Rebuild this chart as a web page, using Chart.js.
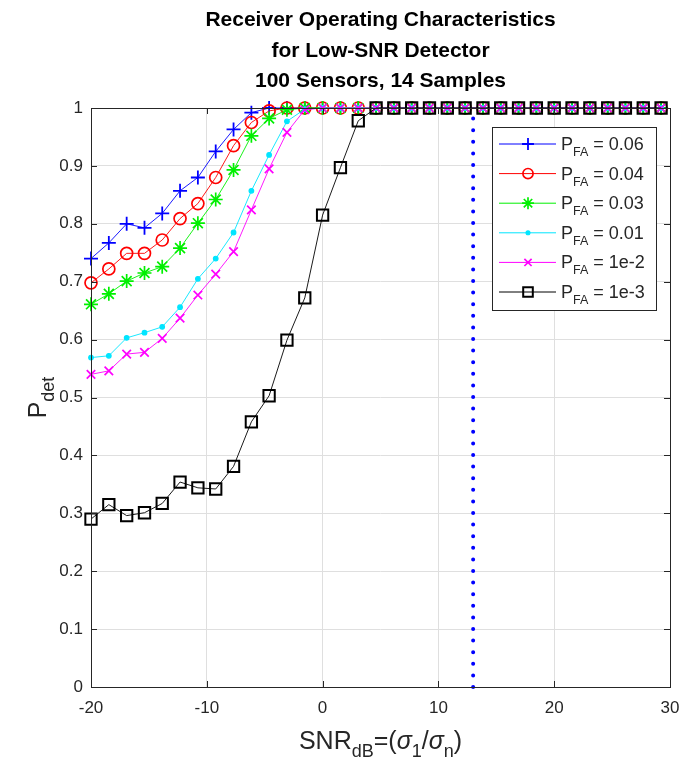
<!DOCTYPE html>
<html>
<head>
<meta charset="utf-8">
<script src="https://cdn.jsdelivr.net/npm/chart.js@4.4.1/dist/chart.umd.min.js"></script>
<style>
  body { margin: 0; background: #fff; }
  #wrap { width: 685px; height: 760px; }
</style>
</head>
<body>
<div id="wrap"><canvas id="roc" width="685" height="760"></canvas></div>
<script>
//------------ data ------------//

// SNR grid in dB (step 20/13 dB)
var snr_dB = [-20, -18.46, -16.92, -15.38, -13.85, -12.31, -10.77, -9.23, -7.69, -6.15, -4.62,
  -3.08, -1.54, 0, 1.54, 3.08, 4.62, 6.15, 7.69, 9.23, 10.77, 12.31, 13.85, 15.38, 16.92,
  18.46, 20, 21.54, 23.08, 24.62, 26.15, 27.69, 29.23];

// detection probability for each false alarm rate
var pd_006 = [0.740, 0.767, 0.800, 0.793, 0.818, 0.857, 0.880, 0.925, 0.963, 0.992, 1,
  1, 1, 1, 1, 1, 1, 1, 1, 1, 1, 1, 1, 1, 1, 1, 1, 1, 1, 1, 1, 1, 1];
var pd_004 = [0.698, 0.722, 0.749, 0.749, 0.772, 0.809, 0.835, 0.880, 0.935, 0.975, 0.995,
  1, 1, 1, 1, 1, 1, 1, 1, 1, 1, 1, 1, 1, 1, 1, 1, 1, 1, 1, 1, 1, 1];
var pd_003 = [0.661, 0.679, 0.701, 0.715, 0.726, 0.758, 0.801, 0.842, 0.893, 0.952, 0.982,
  0.997, 1, 1, 1, 1, 1, 1, 1, 1, 1, 1, 1, 1, 1, 1, 1, 1, 1, 1, 1, 1, 1];
var pd_001 = [0.569, 0.572, 0.603, 0.612, 0.622, 0.656, 0.705, 0.740, 0.785, 0.857, 0.919,
  0.977, 0.998, 1, 1, 1, 1, 1, 1, 1, 1, 1, 1, 1, 1, 1, 1, 1, 1, 1, 1, 1, 1];
var pd_1e2 = [0.540, 0.546, 0.575, 0.578, 0.602, 0.637, 0.677, 0.713, 0.752, 0.824, 0.895,
  0.958, 0.997, 1, 1, 1, 1, 1, 1, 1, 1, 1, 1, 1, 1, 1, 1, 1, 1, 1, 1, 1, 1];
var pd_1e3 = [0.290, 0.315, 0.296, 0.301, 0.317, 0.354, 0.344, 0.342, 0.381, 0.458, 0.503,
  0.599, 0.672, 0.815, 0.897, 0.978, 1, 1, 1, 1, 1, 1, 1, 1, 1, 1, 1, 1, 1, 1, 1, 1, 1];

var pfa_labels = ["0.06", "0.04", "0.03", "0.01", "1e-2", "1e-3"];

// vertical marker line
var mark_x = [13, 13];
var mark_y = [0, 1];

var x_ticks = [-20, -10, 0, 10, 20, 30];
var y_ticks = [0, 0.1, 0.2, 0.3, 0.4, 0.5, 0.6, 0.7, 0.8, 0.9, 1];

var title_lines = ["Receiver Operating Characteristics", "for Low-SNR Detector", "100 Sensors, 14 Samples"];

//------------ helpers ------------//

var FONT = '"Liberation Sans", Arial, Helvetica, sans-serif';
var INK = "#262626";

function pairs(xs, ys) {
  var out = [];
  for (var i = 0; i < xs.length; i++) out.push({ x: xs[i], y: ys[i] });
  return out;
}

// text made of runs: {t, size, dy, style}
function runsWidth(ctx, runs) {
  var w = 0;
  runs.forEach(function (r) {
    ctx.font = (r.style || "") + " " + r.size + "px " + FONT;
    w += ctx.measureText(r.t).width;
  });
  return w;
}
function drawRuns(ctx, runs, x, y) {
  runs.forEach(function (r) {
    ctx.font = (r.style || "") + " " + r.size + "px " + FONT;
    ctx.fillText(r.t, x, y + (r.dy || 0));
    x += ctx.measureText(r.t).width;
  });
}

function series(label, data, color, style, radius, width, order) {
  return {
    label: label,
    data: pairs(snr_dB, data),
    borderColor: color,
    borderWidth: 0.9,
    pointStyle: style,
    pointRadius: radius,
    pointHoverRadius: radius,
    pointBorderColor: color,
    pointBorderWidth: width,
    pointBackgroundColor: style === "circle" && radius < 3 ? color : "rgba(0,0,0,0)",
    tension: 0,
    clip: false,
    order: order
  };
}

var datasets = [
  series("0.06", pd_006, "#0000ff", "cross", 7, 1.8, 6),
  series("0.04", pd_004, "#ff0000", "circle", 6, 1.7, 5),
  series("0.03", pd_003, "#00f000", "star", 7, 1.7, 4),
  series("0.01", pd_001, "#00e5ff", "circle", 2.3, 1.2, 3),
  series("1e-2", pd_1e2, "#ff00ff", "crossRot", 6, 1.7, 2),
  series("1e-3", pd_1e3, "#000000", "rect", 8, 2, 1),
  {
    label: "mark",
    data: pairs(mark_x, mark_y),
    borderColor: "#0000ff",
    borderWidth: 4,
    borderDash: [0, 11.6],
    borderCapStyle: "round",
    pointRadius: 0,
    clip: false,
    order: 0
  }
];

//------------ decorations: box, ticks, titles, legend ------------//

var decor = {
  id: "decor",
  afterDatasetsDraw: function (chart) {
    var ctx = chart.ctx, a = chart.chartArea;
    var sx = chart.scales.x, sy = chart.scales.y;
    ctx.save();

    // inward ticks on all four sides
    ctx.strokeStyle = INK;
    ctx.lineWidth = 1;
    ctx.beginPath();
    x_ticks.forEach(function (v) {
      var px = Math.round(sx.getPixelForValue(v)) + 0.5;
      ctx.moveTo(px, a.bottom); ctx.lineTo(px, a.bottom - 6);
      ctx.moveTo(px, a.top); ctx.lineTo(px, a.top + 6);
    });
    y_ticks.forEach(function (v) {
      var py = Math.round(sy.getPixelForValue(v)) + 0.5;
      ctx.moveTo(a.left, py); ctx.lineTo(a.left + 6, py);
      ctx.moveTo(a.right, py); ctx.lineTo(a.right - 6, py);
    });
    ctx.stroke();
    ctx.strokeRect(Math.round(a.left) + 0.5, Math.round(a.top) + 0.5,
      Math.round(a.right - a.left), Math.round(a.bottom - a.top));

    // legend
    var bw = 164, bh = 183;
    var bx = Math.round(a.right) - 14 - bw, by = Math.round(a.top) + 19;
    ctx.fillStyle = "#fff";
    ctx.fillRect(bx, by, bw, bh);
    ctx.strokeStyle = INK;
    ctx.strokeRect(bx + 0.5, by + 0.5, bw, bh);
    for (var i = 0; i < 6; i++) {
      var ds = datasets[i];
      var ry = by + 17 + i * 29.6;
      ctx.strokeStyle = ds.borderColor;
      ctx.lineWidth = 1;
      ctx.beginPath();
      ctx.moveTo(bx + 7, ry); ctx.lineTo(bx + 64, ry);
      ctx.stroke();
      ctx.lineWidth = ds.pointBorderWidth;
      ctx.fillStyle = ds.pointBackgroundColor;
      Chart.helpers.drawPoint(ctx, {
        pointStyle: ds.pointStyle, radius: ds.pointRadius * 0.85, rotation: 0, borderWidth: ds.pointBorderWidth
      }, bx + 36, ry);
      ctx.fillStyle = INK;
      ctx.textAlign = "left";
      ctx.textBaseline = "alphabetic";
      drawRuns(ctx, [
        { t: "P", size: 18 },
        { t: "FA", size: 12.5, dy: 6 },
        { t: " = " + pfa_labels[i], size: 18 }
      ], bx + 69, ry + 6);
    }

    // title
    var cx = (a.left + a.right) / 2;
    ctx.fillStyle = "#000";
    ctx.textAlign = "center";
    ctx.font = "bold 21px " + FONT;
    title_lines.forEach(function (t, k) {
      ctx.fillText(t, cx, 26 + k * 30.5);
    });

    // x axis title
    ctx.textAlign = "left";
    ctx.fillStyle = INK;
    var xr = [
      { t: "SNR", size: 25 },
      { t: "dB", size: 18, dy: 8 },
      { t: "=(", size: 25 },
      { t: "\u03c3", size: 25, style: "italic" },
      { t: "1", size: 18, dy: 8 },
      { t: "/", size: 25 },
      { t: "\u03c3", size: 25, style: "italic" },
      { t: "n", size: 18, dy: 8 },
      { t: ")", size: 25 }
    ];
    drawRuns(ctx, xr, cx - runsWidth(ctx, xr) / 2, 749);

    // y axis title
    var yr = [{ t: "P", size: 25 }, { t: "det", size: 18, dy: 8 }];
    ctx.translate(46, (a.top + a.bottom) / 2);
    ctx.rotate(-Math.PI / 2);
    drawRuns(ctx, yr, -runsWidth(ctx, yr) / 2, 0);

    ctx.restore();
  }
};

//------------ chart ------------//

var ctx = document.getElementById("roc");
var rocChart = new Chart(ctx, {
  type: "line",
  data: { datasets: datasets },
  options: {
    responsive: false,
    devicePixelRatio: 1,
    animation: false,
    layout: { padding: { top: 108, right: 15, left: 0, bottom: 0 } },
    plugins: { legend: { display: false }, title: { display: false }, tooltip: { enabled: false } },
    scales: {
      x: {
        type: "linear",
        min: -20,
        max: 30,
        afterBuildTicks: function (s) { s.ticks = x_ticks.map(function (v) { return { value: v }; }); },
        afterFit: function (s) { s.height = 73; s.paddingLeft = 0; s.paddingRight = 0; },
        grid: { color: "#dfdfdf", drawTicks: false },
        border: { display: false },
        ticks: { padding: 11, color: INK, font: { family: FONT, size: 17 }, maxRotation: 0 }
      },
      y: {
        min: 0,
        max: 1,
        afterBuildTicks: function (s) { s.ticks = y_ticks.map(function (v) { return { value: v }; }); },
        afterFit: function (s) { s.width = 91; s.paddingTop = 0; s.paddingBottom = 0; },
        grid: { color: "#dfdfdf", drawTicks: false },
        border: { display: false },
        ticks: {
          padding: 8, color: INK, font: { family: FONT, size: 17 },
          callback: function (v) { return String(Math.round(v * 10) / 10); }
        }
      }
    }
  },
  plugins: [decor]
});
</script>
</body>
</html>
